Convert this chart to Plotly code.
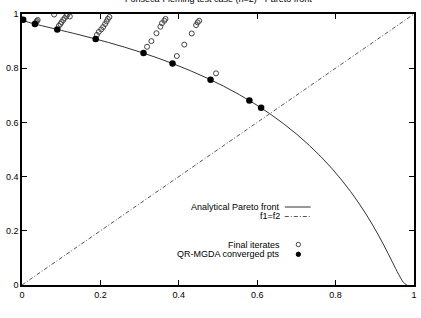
import plotly.graph_objects as go

# Analytical Pareto front (f1, f2)
front_f1 = [0.0, 0.00995, 0.03921, 0.08607, 0.14786, 0.22120, 0.30232, 0.38737, 0.47271, 0.55514,
            0.63212, 0.70180, 0.76307, 0.81548, 0.85914, 0.89460, 0.92270, 0.94442, 0.96084, 0.97295, 0.98168]
front_f2 = [0.98168, 0.97295, 0.96084, 0.94442, 0.92270, 0.89460, 0.85914, 0.81548, 0.76307, 0.70180,
            0.63212, 0.55514, 0.47271, 0.38737, 0.30232, 0.22120, 0.14786, 0.08607, 0.03921, 0.00995, 0.0]

# f1 = f2 diagonal
diag_x = [0.0, 1.0]
diag_y = [0.0, 1.0]

# Final iterates (open circles)
iter_f1 = [0.034, 0.036, 0.038, 0.040,
           0.094, 0.098, 0.101, 0.105, 0.109, 0.113, 0.116, 0.122, 0.082,
           0.191, 0.196, 0.202, 0.207, 0.212, 0.216, 0.219, 0.223,
           0.319, 0.330, 0.343, 0.353, 0.357, 0.363, 0.366,
           0.395, 0.414, 0.433, 0.444, 0.448, 0.452,
           0.495]
iter_f2 = [0.966, 0.970, 0.974, 0.978,
           0.956, 0.963, 0.970, 0.978, 0.985, 0.993, 0.998, 0.991, 0.998,
           0.923, 0.934, 0.943, 0.952, 0.963, 0.973, 0.982, 0.989,
           0.879, 0.900, 0.929, 0.953, 0.966, 0.975, 0.982,
           0.845, 0.887, 0.928, 0.959, 0.969, 0.975,
           0.781]

# QR-MGDA converged points (filled)
conv_f1 = [0.003, 0.033, 0.090, 0.188, 0.310, 0.384, 0.481, 0.580, 0.610]
conv_f2 = [0.979, 0.963, 0.943, 0.908, 0.856, 0.817, 0.757, 0.681, 0.654]

x_ticks = [0, 0.2, 0.4, 0.6, 0.8, 1]
x_tick_labels = ["0", "0.2", "0.4", "0.6", "0.8", "1"]
y_ticks = [0, 0.2, 0.4, 0.6, 0.8, 1]
y_tick_labels = ["0", "0.2", "0.4", "0.6", "0.8", "1"]

title_text = "Fonseca-Fleming test case (n=2) - Pareto front"
legend_labels = ["Analytical Pareto front", "f1=f2", "Final iterates", "QR-MGDA converged pts"]

FONT = "Liberation Sans, Arial, sans-serif"
LINE_C = "#333333"

fig = go.Figure()
fig.add_trace(go.Scatter(x=front_f1, y=front_f2, mode="lines",
                         line=dict(color=LINE_C, width=1, shape="spline"),
                         showlegend=False, hoverinfo="skip"))
fig.add_trace(go.Scatter(x=diag_x, y=diag_y, mode="lines",
                         line=dict(color="#555555", width=1, dash="4px,2px,1px,2px"),
                         showlegend=False, hoverinfo="skip"))
fig.add_trace(go.Scatter(x=iter_f1, y=iter_f2, mode="markers",
                         marker=dict(symbol="circle-open", size=5, color="#444444", line=dict(width=1)),
                         showlegend=False, cliponaxis=True))
fig.add_trace(go.Scatter(x=conv_f1, y=conv_f2, mode="markers",
                         marker=dict(symbol="circle", size=6.5, color="black"),
                         showlegend=False, cliponaxis=True))

axis_common = dict(range=[0, 1], showgrid=False, zeroline=False, showline=True,
                   linecolor="black", linewidth=1.5, mirror="ticks", ticks="inside",
                   ticklen=5, tickwidth=1, tickcolor="black",
                   tickfont=dict(family=FONT, size=9, color="black"), fixedrange=True)

fig.update_layout(
    width=421, height=318, autosize=False,
    margin=dict(l=22, r=4, t=14, b=33),
    paper_bgcolor="white", plot_bgcolor="white",
    xaxis=dict(axis_common, tickvals=x_ticks, ticktext=x_tick_labels),
    yaxis=dict(axis_common, tickvals=y_ticks, ticktext=y_tick_labels),
    showlegend=False,
)

# title (sits at the very top edge, as in reference)
fig.add_annotation(x=0.5, y=1.0295, xref="paper", yref="paper", text=title_text,
                   showarrow=False, xanchor="center", yanchor="bottom",
                   font=dict(family=FONT, size=9, color="black"))

# legend emulation (gnuplot style: text then sample)
leg_text_x = 0.660
leg_ys = [0.2878, 0.2528, 0.1494, 0.1132]
for lbl, yy in zip(legend_labels, leg_ys):
    fig.add_annotation(x=leg_text_x, y=yy, xref="paper", yref="paper", text=lbl,
                       showarrow=False, xanchor="right", yanchor="middle", borderpad=0,
                       font=dict(family=FONT, size=9, color="black"))
fig.add_shape(type="line", xref="paper", yref="paper", x0=0.6705, x1=0.7364,
              y0=leg_ys[0], y1=leg_ys[0], line=dict(color=LINE_C, width=1))
fig.add_shape(type="line", xref="paper", yref="paper", x0=0.6705, x1=0.7364,
              y0=leg_ys[1], y1=leg_ys[1], line=dict(color="#555555", width=1, dash="4px,2px,1px,2px"))
r_px = 2.2
rx = r_px / 395.0
ry = r_px / 271.0
fig.add_shape(type="circle", xref="paper", yref="paper", x0=0.705 - rx, x1=0.705 + rx,
              y0=leg_ys[2] - ry, y1=leg_ys[2] + ry, line=dict(color="#444444", width=1))
fig.add_shape(type="circle", xref="paper", yref="paper", x0=0.705 - rx, x1=0.705 + rx,
              y0=leg_ys[3] - ry, y1=leg_ys[3] + ry, line=dict(color="black", width=1),
              fillcolor="black")

fig.write_html("out.html")
